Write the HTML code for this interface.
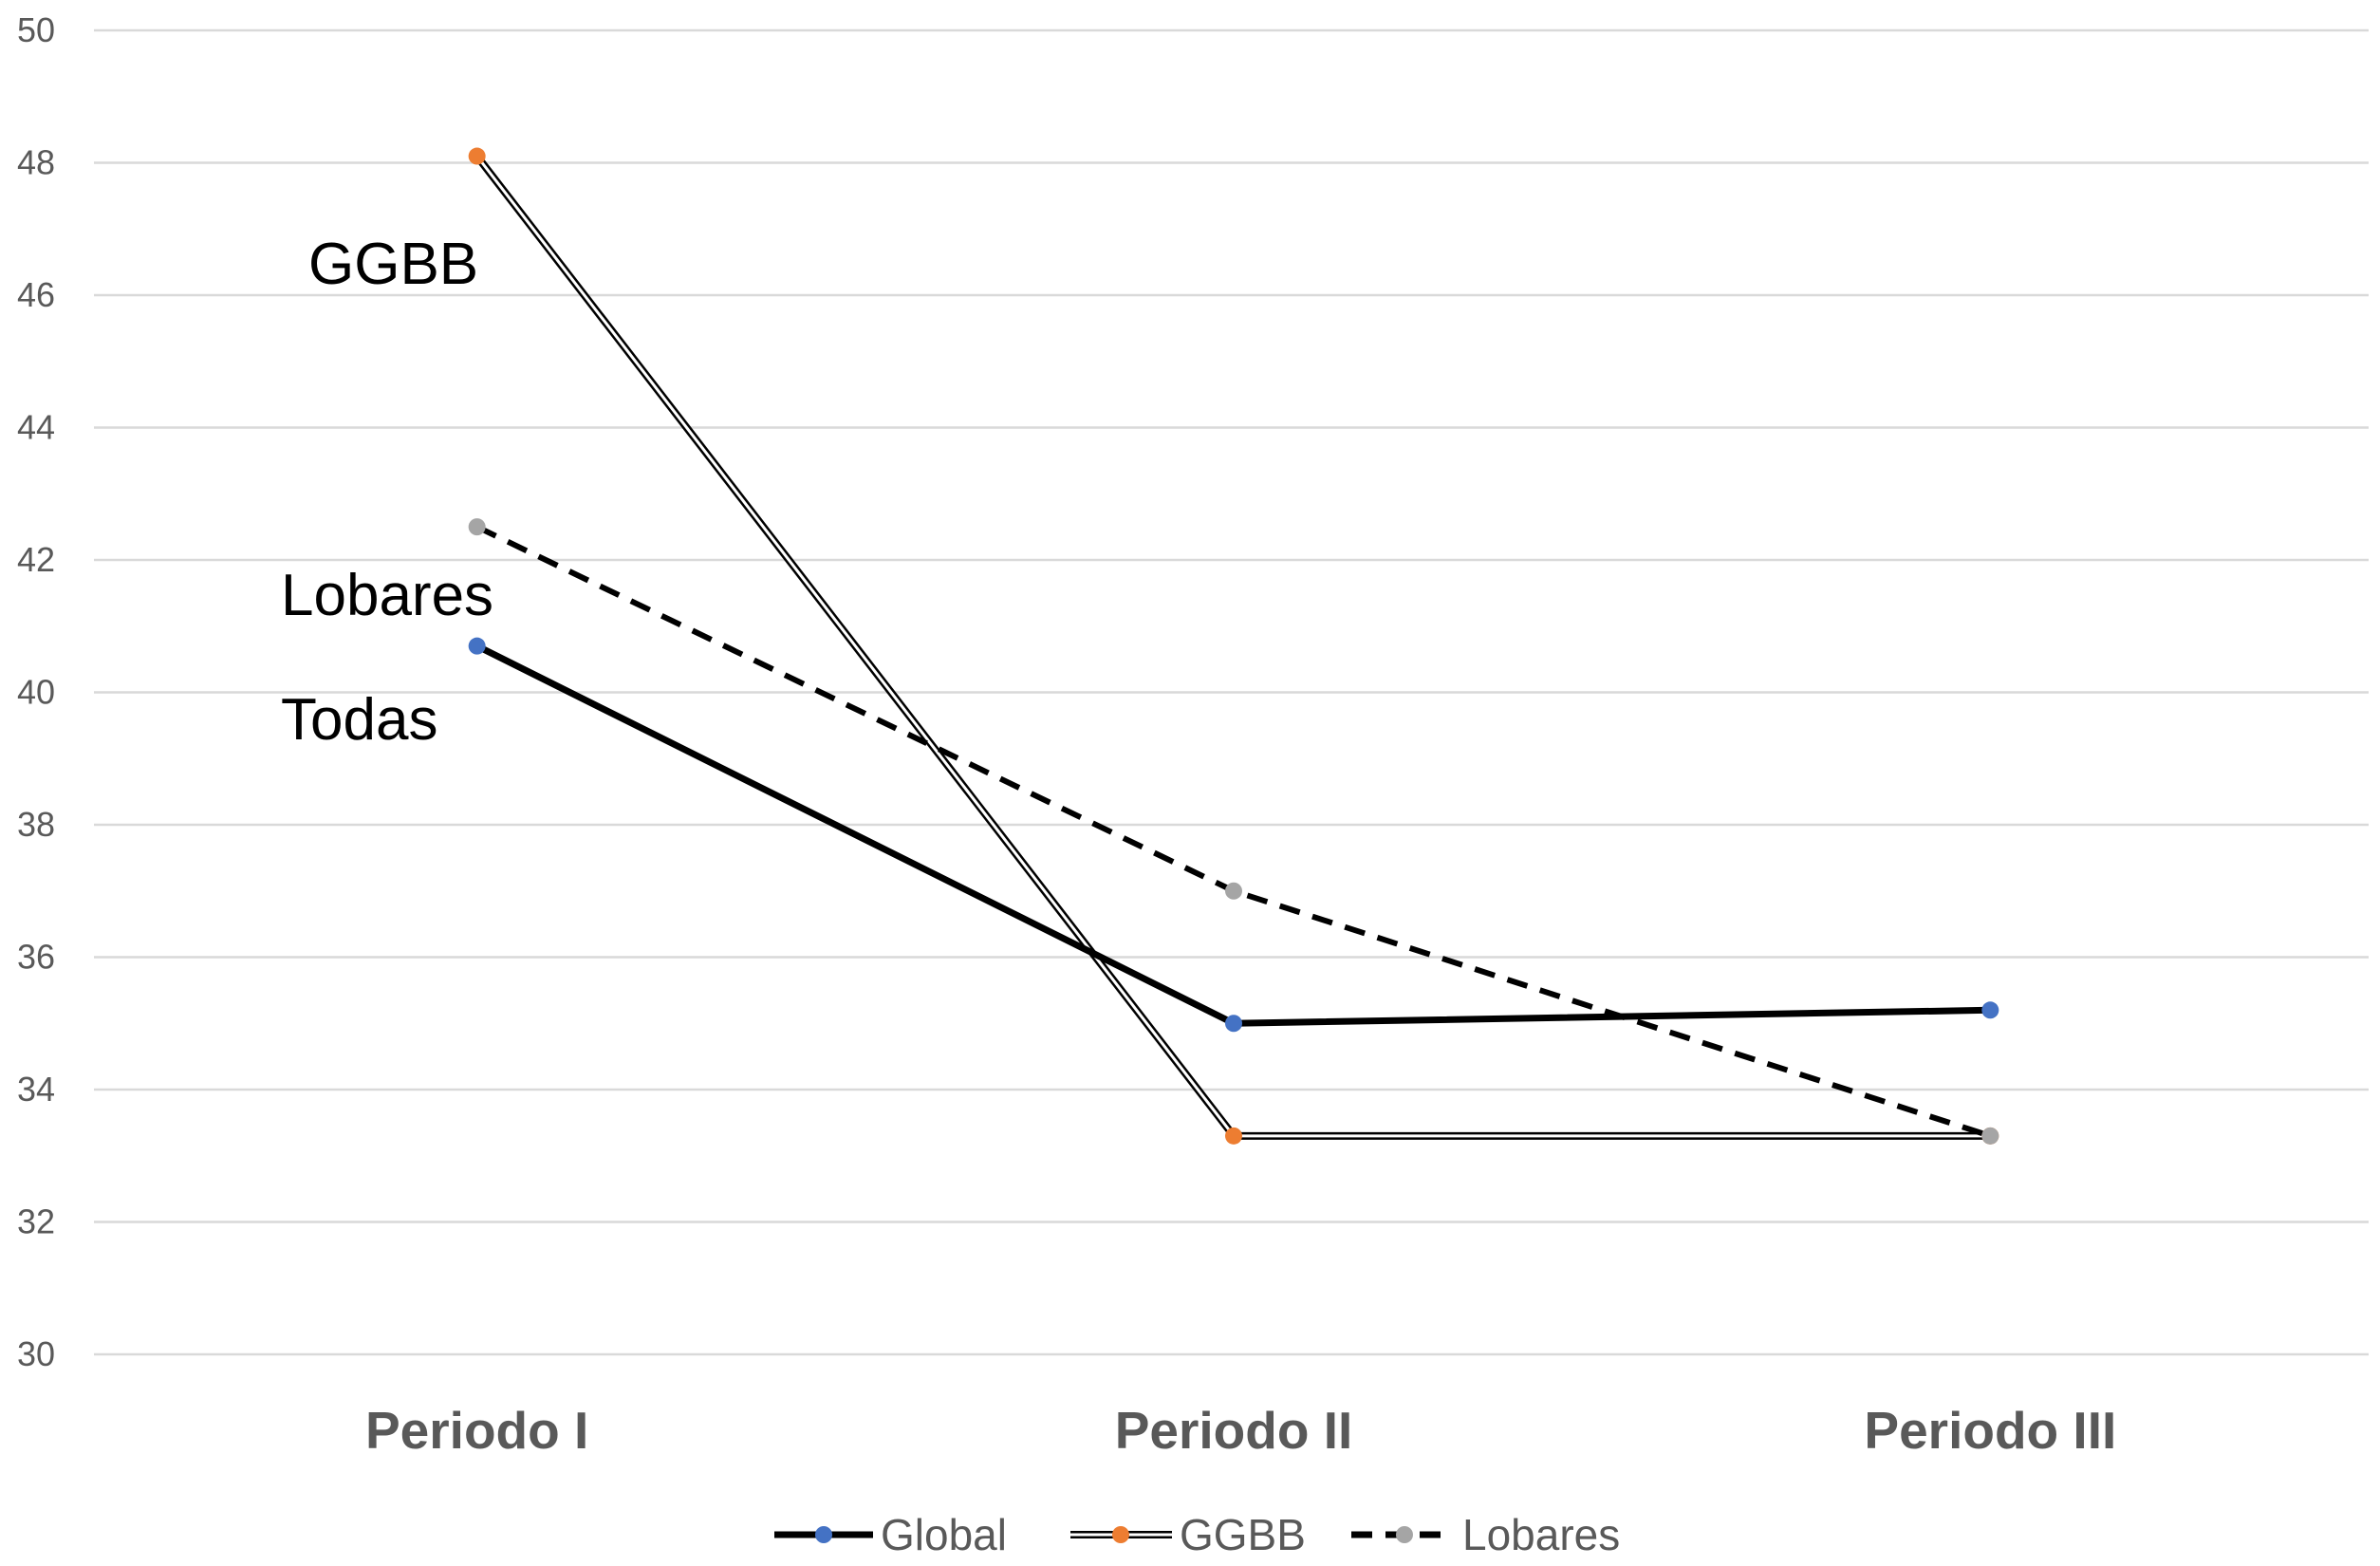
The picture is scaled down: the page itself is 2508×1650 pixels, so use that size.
<!DOCTYPE html>
<html><head><meta charset="utf-8"><style>
html,body{margin:0;padding:0;background:#fff;}
svg{display:block;font-family:"Liberation Sans",sans-serif;}
</style></head><body>
<svg id="chart" width="2508" height="1650" viewBox="0 0 2508 1650" xmlns="http://www.w3.org/2000/svg">
<g id="grid"></g>
<g id="ylabels"></g>
<g id="xlabels"></g>
<g id="series"></g>
<g font-size="62" fill="#000">
<text x="325" y="299">GGBB</text>
<text x="296" y="648">Lobares</text>
<text x="296" y="779">Todas</text>
</g>
<g font-size="46" fill="#595959">
<g>
<line x1="816" y1="1617" x2="920" y2="1617" stroke="#000" stroke-width="7"/>
<circle cx="868" cy="1617" r="9" fill="#4472C4"/>
<text x="928" y="1633">Global</text></g>
<g>
<line x1="1128" y1="1617" x2="1235" y2="1617" stroke="#000" stroke-width="8"/>
<line x1="1128" y1="1617" x2="1235" y2="1617" stroke="#fff" stroke-width="3"/>
<circle cx="1181" cy="1617" r="9" fill="#ED7D31"/>
<text x="1243" y="1633">GGBB</text></g>
<g>
<line x1="1424" y1="1617" x2="1528" y2="1617" stroke="#000" stroke-width="7" stroke-dasharray="22,14"/>
<circle cx="1480" cy="1617" r="9" fill="#A5A5A5"/>
<text x="1541" y="1633">Lobares</text></g>
</g>
</svg>
<script>
const categories = ["Periodo I","Periodo II","Periodo III"];
const globalValues = [40.7, 35.0, 35.2];
const ggbbValues = [48.1, 33.3, 33.3];
const lobaresValues = [42.5, 37.0, 33.3];
const yTicks = [30,32,34,36,38,40,42,44,46,48,50];

const NS="http://www.w3.org/2000/svg";
const plotL=104,plotR=2496,plotT=32,plotB=1427,yMin=30,yMax=50;
const xs=i=>plotL+(plotR-plotL)/categories.length*(i+0.5);
const ys=v=>plotB-(v-yMin)/(yMax-yMin)*(plotB-plotT);
function mk(tag,attrs,parent){const e=document.createElementNS(NS,tag);for(const k in attrs)e.setAttribute(k,attrs[k]);parent.appendChild(e);return e;}
const grid=document.getElementById('grid'),yl=document.getElementById('ylabels'),xl=document.getElementById('xlabels'),ser=document.getElementById('series');
yTicks.forEach(t=>{
  const l=mk('line',{x1:99,x2:plotR,y1:ys(t),y2:ys(t),stroke:'#d9d9d9','stroke-width':2.5},grid);
  
  
  const tx=mk('text',{x:58,y:ys(t)+12,'text-anchor':'end','font-size':36,fill:'#595959'},yl);
  tx.textContent=t;
  
  
});
categories.forEach((c,i)=>{
  const tx=mk('text',{x:xs(i),y:1526,'text-anchor':'middle','font-size':55,'font-weight':'bold',fill:'#595959'},xl);
  tx.textContent=c;
  
  
});
function pts(vals){return vals.map((v,i)=>xs(i)+','+ys(v)).join(' ');}
function drawSeries(name,vals,color,styles){
  const g=mk('g',{},ser);
  
  
  styles.forEach(s=>{const p=mk('polyline',Object.assign({points:pts(vals),fill:'none','stroke-linejoin':'round'},s),g);
    
    });
  vals.forEach((v,i)=>{const c=mk('circle',{cx:xs(i),cy:ys(v),r:9,fill:color},g);
    
    });
}
drawSeries('ggbb',ggbbValues,'#ED7D31',[{stroke:'#000','stroke-width':8},{stroke:'#fff','stroke-width':3}]);
drawSeries('lobares',lobaresValues,'#A5A5A5',[{stroke:'#000','stroke-width':6,'stroke-dasharray':'22,14'}]);
drawSeries('global',globalValues,'#4472C4',[{stroke:'#000','stroke-width':7}]);
</script>
</body></html>
